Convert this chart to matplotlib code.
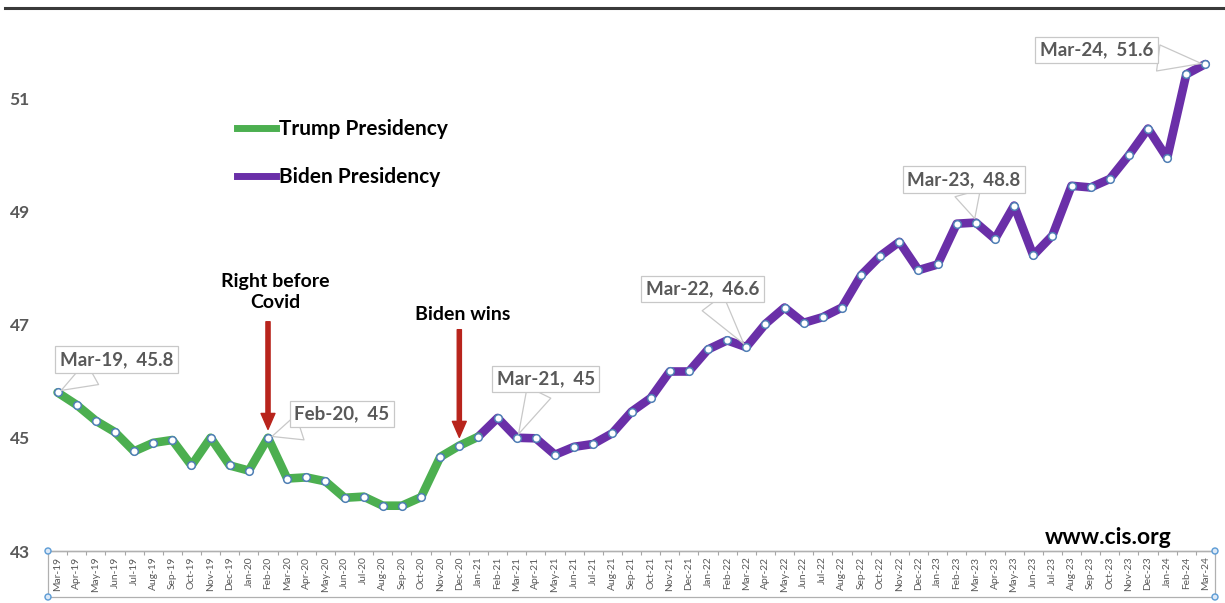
import matplotlib
matplotlib.use('Agg')
import matplotlib.pyplot as plt
from matplotlib.lines import Line2D
from matplotlib.patches import Rectangle, Ellipse

# ---------------- data ----------------
months = ['Mar-19', 'Apr-19', 'May-19', 'Jun-19', 'Jul-19', 'Aug-19', 'Sep-19', 'Oct-19', 'Nov-19', 'Dec-19',
          'Jan-20', 'Feb-20', 'Mar-20', 'Apr-20', 'May-20', 'Jun-20', 'Jul-20', 'Aug-20', 'Sep-20', 'Oct-20',
          'Nov-20', 'Dec-20', 'Jan-21', 'Feb-21', 'Mar-21', 'Apr-21', 'May-21', 'Jun-21', 'Jul-21', 'Aug-21',
          'Sep-21', 'Oct-21', 'Nov-21', 'Dec-21', 'Jan-22', 'Feb-22', 'Mar-22', 'Apr-22', 'May-22', 'Jun-22',
          'Jul-22', 'Aug-22', 'Sep-22', 'Oct-22', 'Nov-22', 'Dec-22', 'Jan-23', 'Feb-23', 'Mar-23', 'Apr-23',
          'May-23', 'Jun-23', 'Jul-23', 'Aug-23', 'Sep-23', 'Oct-23', 'Nov-23', 'Dec-23', 'Jan-24', 'Feb-24',
          'Mar-24']
values = [45.8, 45.58, 45.30, 45.10, 44.76, 44.91, 44.96, 44.51, 45.0, 44.51,
          44.42, 45.0, 44.28, 44.30, 44.23, 43.94, 43.96, 43.80, 43.80, 43.95,
          44.66, 44.86, 45.02, 45.35, 45.0, 44.99, 44.70, 44.84, 44.89, 45.08,
          45.46, 45.70, 46.17, 46.17, 46.56, 46.72, 46.6, 47.01, 47.30, 47.03,
          47.13, 47.30, 47.87, 48.21, 48.46, 47.96, 48.06, 48.78, 48.8, 48.51,
          49.10, 48.22, 48.57, 49.45, 49.42, 49.57, 49.99, 50.46, 49.94, 51.42,
          51.6]
trump_last = 'Jan-21'
series_names = ['Trump Presidency', 'Biden Presidency']
labelled = ['Mar-19', 'Feb-20', 'Mar-21', 'Mar-22', 'Mar-23', 'Mar-24']
events = {'Feb-20': 'Right before\nCovid', 'Dec-20': 'Biden wins'}
yticks = [43, 45, 47, 49, 51]
source = 'www.cis.org'

# ---------------- style ----------------
GREEN = '#4caf50'
PURPLE = '#6a2fa8'
RED = '#b8241c'
GRAY = '#595959'
MARK_EDGE = '#4f7fb5'

plt.rcParams['font.family'] = ['Lato', 'DejaVu Sans']

W, H = 1225, 603
fig = plt.figure(figsize=(W / 100, H / 100), dpi=100)


def fx(x):
    return x / W


def fy(y):
    return 1 - y / H


ax = fig.add_axes([fx(48), fy(551), fx(1215) - fx(48), fy(10) - fy(551)])
x = list(range(len(months)))
k = months.index(trump_last)

ax.plot(x[:k + 1], values[:k + 1], color=GREEN, lw=6.2, solid_joinstyle='round',
        solid_capstyle='round', zorder=3)
ax.plot(x[k:], values[k:], color=PURPLE, lw=6.2, solid_joinstyle='round',
        solid_capstyle='round', zorder=2)
ax.plot(x, values, 'o', ms=5.5, mfc='white', mec=MARK_EDGE, mew=1.1, zorder=4)

ax.set_xlim(-0.5, len(months) - 0.5)
ax.set_ylim(43, 43 + 541 / 56.625)

for s in ['top', 'right', 'left']:
    ax.spines[s].set_visible(False)
ax.spines['bottom'].set_color('#a6a6a6')
ax.spines['bottom'].set_linewidth(1.0)

ax.set_yticks(yticks)
ax.set_yticklabels([str(t) for t in yticks], fontsize=12.5, fontweight='bold', color=GRAY)
ax.tick_params(axis='y', length=0, pad=13)

ax.set_xticks(x)
ax.set_xticklabels(months, rotation=90, fontsize=7.4, color=GRAY)
ax.tick_params(axis='x', which='major', length=0, pad=4)
ax.set_xticks([i - 0.5 for i in range(len(months) + 1)], minor=True)
ax.tick_params(axis='x', which='minor', length=3, color='#a6a6a6', width=0.8)

# category-axis selection frame
fig.add_artist(Rectangle((fx(48), fy(597)), fx(1215) - fx(48), fy(551) - fy(597),
                         transform=fig.transFigure, fill=False, ec='#b0b0b0', lw=0.9))
for (px, py) in [(48, 551), (48, 597), (1215, 551), (1215, 597)]:
    fig.add_artist(Ellipse((fx(px), fy(py)), 6 / W, 6 / H, transform=fig.transFigure,
                           fc='#dce9f7', ec='#5b9bd5', lw=1.0, zorder=10))

# top border line
fig.add_artist(Line2D([fx(5), fx(1225)], [fy(8), fy(8)], color='#3a3a3a', lw=2.2))

# legend
handles = [Line2D([0], [0], color=GREEN, lw=5), Line2D([0], [0], color=PURPLE, lw=5)]
leg = ax.legend(handles, series_names, loc='upper left', bbox_to_anchor=(fx(237), fy(119)),
                bbox_transform=fig.transFigure, frameon=False,
                prop={'weight': 'bold', 'size': 15}, handlelength=1.85, handletextpad=0.15,
                labelspacing=1.35, borderpad=0, borderaxespad=0)

# event arrows + labels
for m, txt in events.items():
    i = months.index(m)
    ax.annotate('', xy=(i, values[i]), xytext=(0, 116), textcoords='offset pixels',
                arrowprops=dict(arrowstyle='simple,head_length=1.15,head_width=1.0,tail_width=0.3',
                                mutation_scale=10, color=RED, shrinkA=0, shrinkB=6))
for m, txt, off in [('Feb-20', events['Feb-20'], (7, 146)), ('Dec-20', events['Dec-20'], (3, 131))]:
    i = months.index(m)
    ax.annotate(txt, xy=(i, values[i]), xytext=off, textcoords='offset pixels',
                ha='center', va='center', fontsize=14, fontweight='bold', color='black',
                linespacing=1.3)

# data callouts
offsets = {'Mar-19': (59, 33), 'Feb-20': (74, 24), 'Mar-21': (29, 59),
           'Mar-22': (-44, 58), 'Mar-23': (-12, 43), 'Mar-24': (-109, 14)}
for m in labelled:
    i = months.index(m)
    v = values[i]
    ax.annotate(f"{m},  {round(v, 1):g}", xy=(i, v), xytext=offsets[m], textcoords='offset pixels',
                ha='center', va='center', fontsize=13.5, fontweight='bold', color=GRAY, zorder=6,
                bbox=dict(boxstyle='square,pad=0.25', fc='white', ec='#c8c8c8', lw=0.9),
                arrowprops=dict(arrowstyle='wedge,tail_width=1.4,shrink_factor=0.5', fc='white',
                                ec='#c8c8c8', lw=0.9, shrinkA=0, shrinkB=3))

fig.text(fx(1172), fy(538), source, ha='right', va='center', fontsize=16.5, fontweight='bold',
         color='black')

fig.savefig('out.png', dpi=100)
